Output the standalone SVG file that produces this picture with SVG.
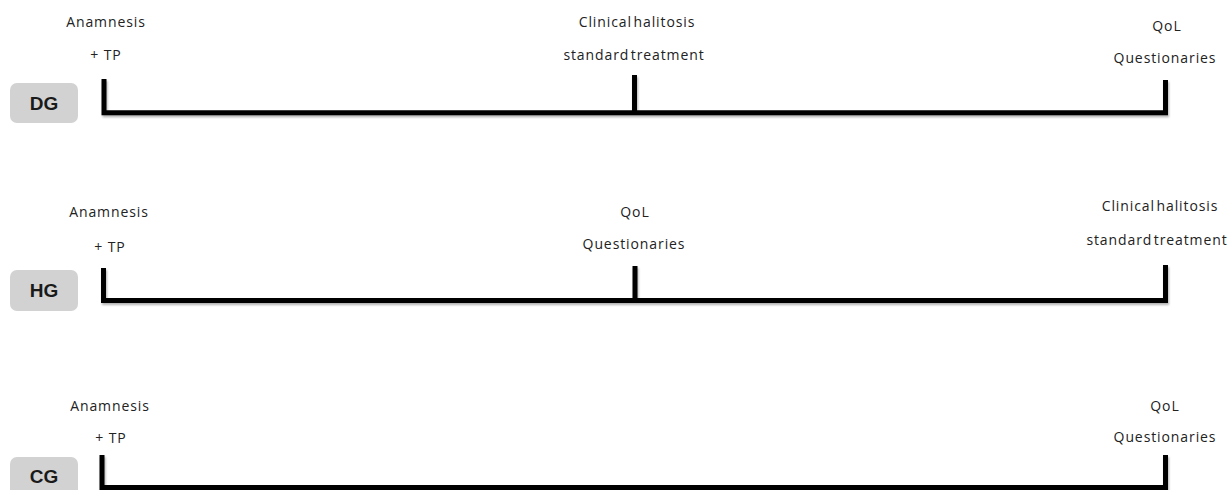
<svg xmlns="http://www.w3.org/2000/svg" width="1231" height="490" viewBox="0 0 1231 490">
<defs>
<style>
.lbl{font-family:"Open Sans","Liberation Sans",sans-serif;font-size:14px;fill:#222;text-anchor:middle;letter-spacing:0.9px}
.tight{word-spacing:-3px}
.grp rect{fill:#d2d2d2}
.grp text{font-family:"Liberation Sans",Arial,sans-serif;font-size:19px;font-weight:bold;fill:#1a1a1a;text-anchor:middle}
.tl{fill:none;stroke:#000;stroke-width:5;stroke-linejoin:miter;stroke-linecap:butt}
</style>
<filter id="sh" x="-5%" y="-50%" width="110%" height="200%">
<feDropShadow dx="1" dy="2" stdDeviation="1.2" flood-color="#000" flood-opacity="0.3"/>
</filter>
</defs>
<rect width="1231" height="490" fill="#fff"/>

<g id="DG" class="grp"><rect x="10" y="83" width="68" height="40" rx="7"/><text x="44" y="110">DG</text></g>
<g id="HG" class="grp"><rect x="10" y="270" width="68" height="41" rx="7"/><text x="44" y="297">HG</text></g>
<g id="CG" class="grp"><rect x="10" y="457" width="68" height="40" rx="7"/><text x="44" y="483">CG</text></g>

<g id="connectors" filter="url(#sh)">
<path class="tl" d="M104,79 V112.7 H1165.5 V80"/>
<path class="tl" d="M634.5,75 V112.7"/>
<path class="tl" d="M103.5,268 V300.5 H1165.5 V265"/>
<path class="tl" d="M635,266 V300.5"/>
<path class="tl" d="M102,455 V487.5 H1165.5 V455"/>
</g>

<g id="row1-labels">
<text class="lbl" x="106" y="27">Anamnesis</text>
<text class="lbl" x="106" y="60">+ TP</text>
<text class="lbl tight" x="637" y="27">Clinical halitosis</text>
<text class="lbl tight" x="634" y="60">standard treatment</text>
<text class="lbl" x="1167" y="31">QoL</text>
<text class="lbl" x="1165" y="63">Questionaries</text>
</g>
<g id="row2-labels">
<text class="lbl" x="109" y="217">Anamnesis</text>
<text class="lbl" x="110" y="252">+ TP</text>
<text class="lbl" x="635" y="217">QoL</text>
<text class="lbl" x="634" y="249">Questionaries</text>
<text class="lbl tight" x="1160" y="211">Clinical halitosis</text>
<text class="lbl tight" x="1157" y="245">standard treatment</text>
</g>
<g id="row3-labels">
<text class="lbl" x="110" y="411">Anamnesis</text>
<text class="lbl" x="111" y="443">+ TP</text>
<text class="lbl" x="1165" y="411">QoL</text>
<text class="lbl" x="1165" y="442">Questionaries</text>
</g>
</svg>
